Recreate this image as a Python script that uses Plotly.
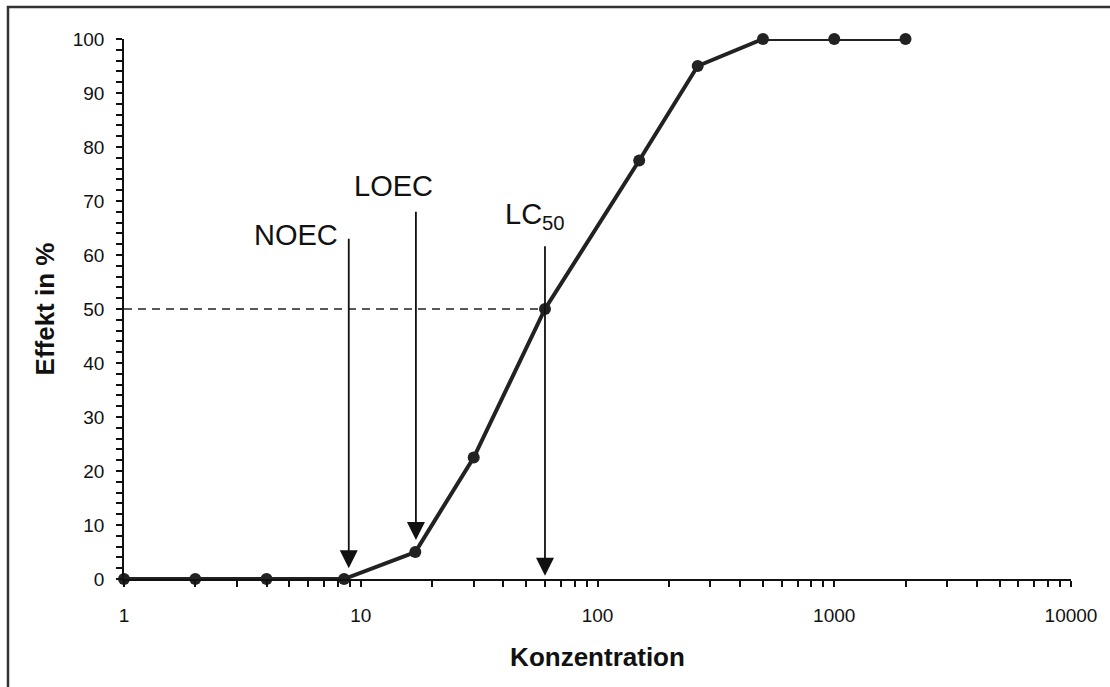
import numpy as np
import plotly.graph_objects as go

# Data
konzentration = [1, 2, 4, 8.5, 17, 30, 60, 150, 265, 500, 1000, 2000]
effekt = [0, 0, 0, 0, 5, 22.5, 50, 77.5, 95, 100, 100, 100]

marker_labels = ["NOEC", "LOEC", "LC<sub>50</sub>"]
marker_x = [8.9, 17.1, 60]
marker_top = [63.3, 68.3, 61.9]
marker_tip = [2.0, 7.2, 0.6]

x_ticks = [1, 10, 100, 1000, 10000]
y_ticks = list(range(0, 101, 10))

ink = "#222222"
font_family = "Liberation Sans, Arial, sans-serif"

fig = go.Figure()

# 50% dashed reference line
fig.add_trace(go.Scatter(
    x=[konzentration[0], marker_x[2]], y=[50, 50], mode="lines",
    line=dict(color=ink, width=1.7, dash="8px,6px"),
    cliponaxis=False, showlegend=False, hoverinfo="skip"))

# Main curve
fig.add_trace(go.Scatter(
    x=konzentration, y=effekt, mode="lines+markers",
    line=dict(color=ink, width=4),
    marker=dict(color=ink, size=12),
    cliponaxis=False, showlegend=False))

annotations = []
for xv, top, tip in zip(marker_x, marker_top, marker_tip):
    annotations.append(dict(
        x=np.log10(xv), y=tip, ax=np.log10(xv), ay=top,
        xref="x", yref="y", axref="x", ayref="y",
        text="", showarrow=True, arrowhead=2, arrowsize=2.0,
        arrowwidth=1.8, arrowcolor="#111111"))

annotations.append(dict(x=np.log10(8.15), y=63.7, xref="x", yref="y",
                        text=marker_labels[0], showarrow=False, xanchor="right",
                        yanchor="middle", font=dict(size=29, color="#111111")))
annotations.append(dict(x=np.log10(13.8), y=72.8, xref="x", yref="y",
                        text=marker_labels[1], showarrow=False, xanchor="center",
                        yanchor="middle", font=dict(size=29, color="#111111")))
annotations.append(dict(x=np.log10(39.9), y=67.2, xref="x", yref="y",
                        text=marker_labels[2], showarrow=False, xanchor="left",
                        yanchor="middle", font=dict(size=29, color="#111111")))

fig.update_layout(
    width=1110, height=687,
    margin=dict(l=124, r=39, t=39, b=108, pad=0),
    paper_bgcolor="white", plot_bgcolor="white",
    font=dict(family=font_family, color="#111111", size=19),
    annotations=annotations,
    shapes=[dict(type="rect", xref="paper", yref="paper",
                 x0=-0.1225, x1=1.3, y0=-0.5, y1=1.0593,
                 line=dict(color="#333333", width=2.5), layer="above")],
    xaxis=dict(
        type="log", range=[0, 4],
        tickvals=x_ticks, ticktext=[str(v) for v in x_ticks],
        showline=True, linecolor="#111111", linewidth=1.5,
        ticks="outside", ticklen=6, tickwidth=1.5, tickcolor="#111111",
        minor=dict(ticks="outside", ticklen=6, tickwidth=1.5, tickcolor="#111111",
                   dtick="D1", showgrid=False),
        showgrid=False, zeroline=False, ticklabelstandoff=12,
        tickfont=dict(size=19),
        title=dict(text="<b>Konzentration</b>", font=dict(size=26), standoff=23),
    ),
    yaxis=dict(
        range=[0, 100], tickvals=y_ticks,
        showline=True, linecolor="#111111", linewidth=1.5,
        ticks="outside", ticklen=6, tickwidth=1.5, tickcolor="#111111",
        minor=dict(ticks="outside", ticklen=6, tickwidth=1.5, tickcolor="#111111",
                   dtick=2, showgrid=False),
        showgrid=False, zeroline=False, ticklabelstandoff=8,
        tickfont=dict(size=19),
        title=dict(text="<b>Effekt in %</b>", font=dict(size=26), standoff=11),
    ),
)

fig.write_html("out.html")
